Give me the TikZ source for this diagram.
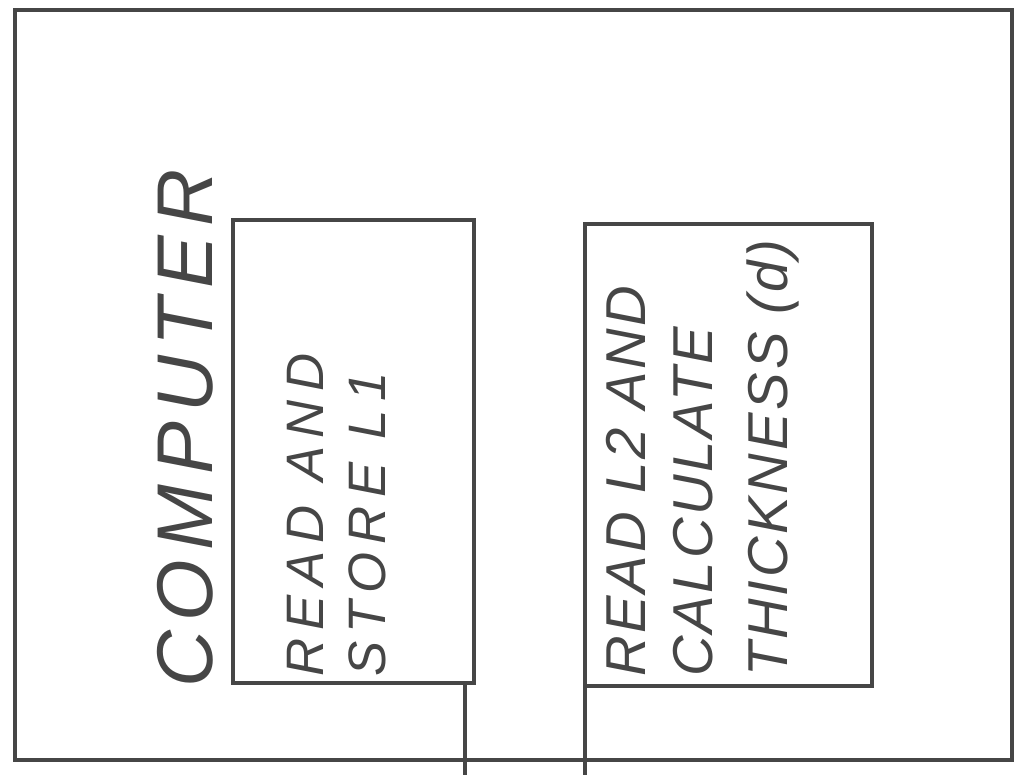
\documentclass[tikz,border=0pt]{standalone}
\usepackage{fontspec}
\setmainfont{Liberation Sans}
\usetikzlibrary{positioning}
\definecolor{inkgray}{RGB}{70,70,70}

\begin{document}
\begin{tikzpicture}[
    x=0.02cm, y=-0.02cm,
    box/.style={
      draw=inkgray,
      line width=2.6pt,
      inner sep=0pt
    },
    lettering/.style={
      text=inkgray,
      rotate=90,
      align=left,
      inner sep=0pt,
      anchor=north west
    },
    wire/.style={draw=inkgray, line width=2.6pt}
  ]
    \useasboundingbox (0,0) rectangle (1026,775);

    % outer frame and the two routines
    \node[box, minimum width=19.94cm, minimum height=15cm] (computer)
      at (513.5,385) {};
    \node[box, minimum width=4.82cm, minimum height=9.26cm] (readstore)
      at (353.5,451.5) {};
    \node[box, minimum width=5.74cm, minimum height=9.24cm] (readcalc)
      at (728.5,455) {};

    \node[lettering,
      font=\itshape\fontsize{45}{47}\selectfont\addfontfeatures{LetterSpace=12}]
      (title) at (157,688) {COMPUTER};
    \node[lettering,
      font=\itshape\fontsize{30}{35}\selectfont\addfontfeatures{LetterSpace=16}]
      (storetext) at (287,677) {READ AND\\STORE L1};
    \node[lettering,
      font=\itshape\fontsize{32}{38}\selectfont\addfontfeatures{LetterSpace=5}]
      (calctext) at (606,677) {READ L2 AND\\CALCULATE\\[5pt]THICKNESS (d)};

    \coordinate (out1) at (465,775);
    \coordinate (out2) at (585,775);
    \draw[wire] (readstore.south -| out1) -- (out1);
    \draw[wire] (readcalc.south -| out2) -- (out2);
  \end{tikzpicture}
\end{document}
